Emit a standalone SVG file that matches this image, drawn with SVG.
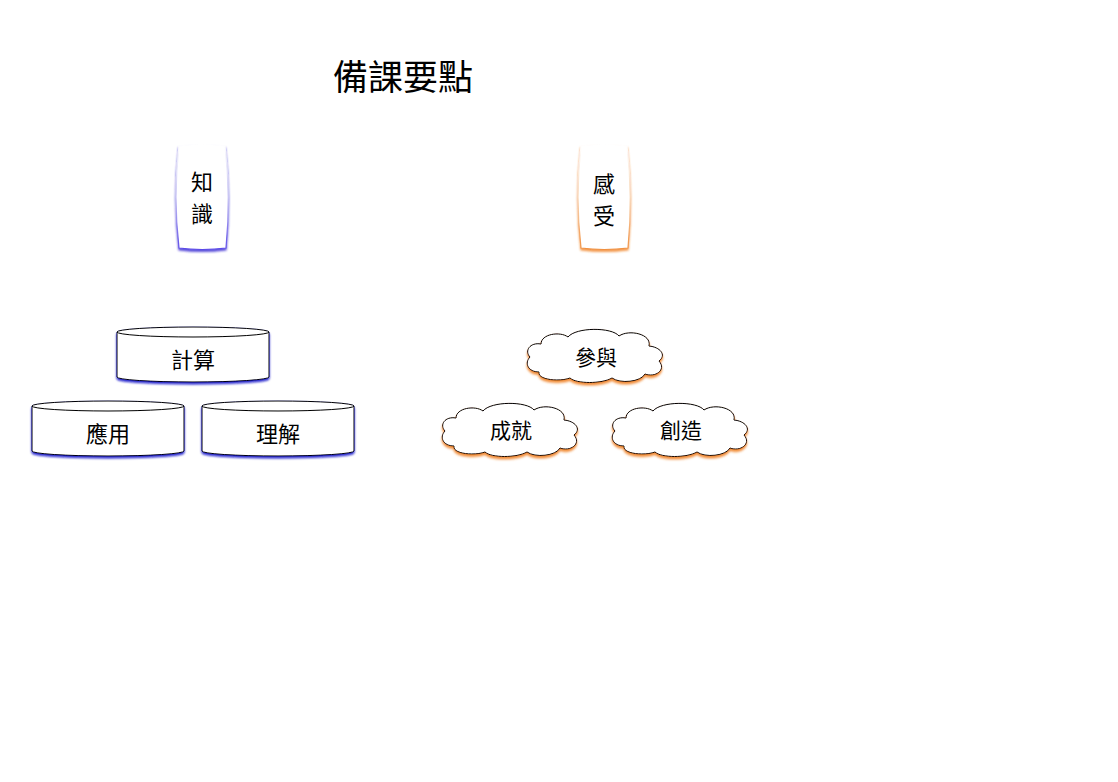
<svg xmlns="http://www.w3.org/2000/svg" width="1118" height="782" viewBox="0 0 1118 782">
<style>
.t{font-family:"Noto Sans CJK TC","Noto Sans CJK SC",sans-serif;fill:#000;text-anchor:middle;dominant-baseline:central}
.cyl{fill:#fff;stroke:#000;stroke-width:1}
.cloud{fill:#fff;stroke:#000;stroke-width:1}
</style>
<defs>
<linearGradient id="gb" x1="0" y1="0" x2="0" y2="1">
<stop offset="0" stop-color="#fff"/><stop offset="0.5" stop-color="#c8c4f4"/><stop offset="1" stop-color="#5a48e8"/>
</linearGradient>
<linearGradient id="go" x1="0" y1="0" x2="0" y2="1">
<stop offset="0" stop-color="#fff"/><stop offset="0.5" stop-color="#f8d8b8"/><stop offset="1" stop-color="#f09040"/>
</linearGradient>
<filter id="sb" x="-10%" y="-10%" width="120%" height="130%">
<feDropShadow dx="0" dy="2" stdDeviation="0.8" flood-color="#1010c8" flood-opacity="0.9"/>
</filter>
<filter id="sb2" x="-20%" y="-10%" width="140%" height="130%">
<feDropShadow dx="0" dy="2" stdDeviation="0.8" flood-color="#3020d0" flood-opacity="0.8"/>
</filter>
<filter id="so" x="-10%" y="-10%" width="120%" height="130%">
<feDropShadow dx="0" dy="2.5" stdDeviation="1" flood-color="#f08020" flood-opacity="0.9"/>
</filter>
<filter id="so2" x="-20%" y="-10%" width="140%" height="130%">
<feDropShadow dx="0" dy="2" stdDeviation="0.8" flood-color="#f08020" flood-opacity="0.8"/>
</filter>
<path id="cloudShape" d="M6,28 C0,22 6,13 17,15 C17,5 36,2 44,8 C52,-2 88,-2 95,7 C105,0 128,5 125,17 C136,18 143,26 135,32 C143,41 131,49 121,45 C117,53 96,55 88,49 C78,55 52,55 46,49 C36,53 13,51 15,43 C4,43 0,34 6,28 Z"/>
</defs>
<rect width="1118" height="782" fill="#fff"/>
<g id="title"><text class="t" x="403" y="74" font-size="35">備課要點</text></g>
<g id="zhishi">
<path d="M179,146 Q202,143 225,146 Q231,197 226,248 Q202,251 179,248 Q173,197 179,146 Z" fill="#fff" stroke="url(#gb)" stroke-width="1.2" filter="url(#sb2)"/>
<text class="t" x="202" y="180" font-size="22">知</text>
<text class="t" x="202" y="212" font-size="22">識</text>
</g>
<g id="ganshou">
<path d="M581,146 Q604,143 627,146 Q633,197 628,248 Q604,251 581,248 Q575,197 581,146 Z" fill="#fff" stroke="url(#go)" stroke-width="1.2" filter="url(#so2)"/>
<text class="t" x="604" y="182" font-size="22">感</text>
<text class="t" x="604" y="214" font-size="22">受</text>
</g>
<g id="jisuan" filter="url(#sb)">
<path class="cyl" d="M117,332 A76,5 0 0 1 269,332 L269,377 A76,5 0 0 1 117,377 Z"/>
<path d="M117,332 A76,5 0 0 0 269,332" fill="none" stroke="#000"/>
</g>
<text class="t" x="193" y="358" font-size="22">計算</text>
<g id="yingyong" filter="url(#sb)">
<path class="cyl" d="M32,406 A76,5 0 0 1 184,406 L184,451 A76,5 0 0 1 32,451 Z"/>
<path d="M32,406 A76,5 0 0 0 184,406" fill="none" stroke="#000"/>
</g>
<text class="t" x="108" y="432" font-size="22">應用</text>
<g id="lijie" filter="url(#sb)">
<path class="cyl" d="M202,406 A76,5 0 0 1 354,406 L354,451 A76,5 0 0 1 202,451 Z"/>
<path d="M202,406 A76,5 0 0 0 354,406" fill="none" stroke="#000"/>
</g>
<text class="t" x="278" y="432" font-size="22">理解</text>
<g id="canyu">
<use href="#cloudShape" class="cloud" transform="translate(524,329)" filter="url(#so)"/>
<text class="t" x="596" y="356" font-size="21">參與</text>
</g>
<g id="chengjiu">
<use href="#cloudShape" class="cloud" transform="translate(439,403)" filter="url(#so)"/>
<text class="t" x="511" y="429" font-size="21">成就</text>
</g>
<g id="chuangzao">
<use href="#cloudShape" class="cloud" transform="translate(609,403)" filter="url(#so)"/>
<text class="t" x="681" y="429" font-size="21">創造</text>
</g>
<g id="connectors"></g>
</svg>
